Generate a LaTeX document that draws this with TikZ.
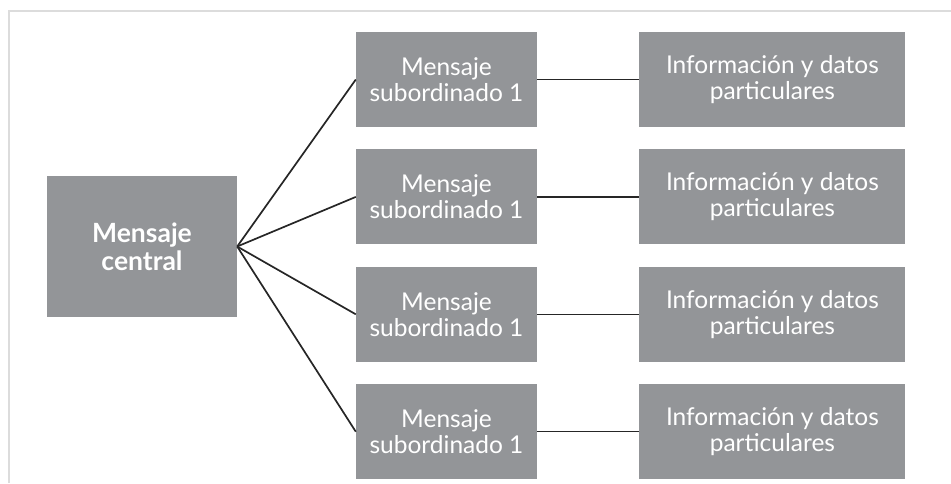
\documentclass[tikz,border=0pt]{standalone}
\usepackage{fontspec}
\setmainfont{Lato}
\usetikzlibrary{positioning}

\definecolor{boxgray}{HTML}{939598}
\definecolor{framegray}{HTML}{DCDCDC}

\tikzset{
    msgbox/.style={fill=boxgray, text=white, inner sep=0pt, align=center,
        font=\fontsize{24.5}{26}\selectfont},
    centralbox/.style={msgbox, minimum width=190pt, minimum height=141pt,
        font=\fontsize{26.5}{28}\selectfont\bfseries},
    subbox/.style={msgbox, minimum width=181pt, minimum height=95pt},
    infobox/.style={msgbox, minimum width=266pt, minimum height=95pt},
    fanline/.style={line width=1.7pt, black!85},
    linkline/.style={line width=1.3pt, black!85}
}

\begin{document}
\begin{tikzpicture}[x=1pt, y=-1pt, node distance=22pt and 102pt]
    \useasboundingbox (0,0) rectangle (951,483);
    % marco
    \draw[framegray, line width=1.5pt] (9,483) -- (9,11) -- (951,11);

    \node[centralbox] (central) at (142,246.5) {Mensaje\\central};

    \node[subbox] (sub1) at (446.5,79.5) {Mensaje\\subordinado 1};
    \node[subbox, below=of sub1] (sub2) {Mensaje\\subordinado 1};
    \node[subbox, below=of sub2] (sub3) {Mensaje\\subordinado 1};
    \node[subbox, below=of sub3] (sub4) {Mensaje\\subordinado 1};

    \node[infobox, right=of sub1] (info1) {Información y datos\\particulares};
    \node[infobox, right=of sub2] (info2) {Información y datos\\particulares};
    \node[infobox, right=of sub3] (info3) {Información y datos\\particulares};
    \node[infobox, right=of sub4] (info4) {Información y datos\\particulares};

    \draw[fanline] (central.east) -- (sub1.west);
    \draw[fanline] (central.east) -- (sub2.west);
    \draw[fanline] (central.east) -- (sub3.west);
    \draw[fanline] (central.east) -- (sub4.west);

    \draw[linkline] (sub1.east) -- (info1.west);
    \draw[linkline, line width=1.9pt] (sub2.east) -- (info2.west);
    \draw[linkline] (sub3.east) -- (info3.west);
    \draw[linkline] (sub4.east) -- (info4.west);
\end{tikzpicture}
\end{document}
